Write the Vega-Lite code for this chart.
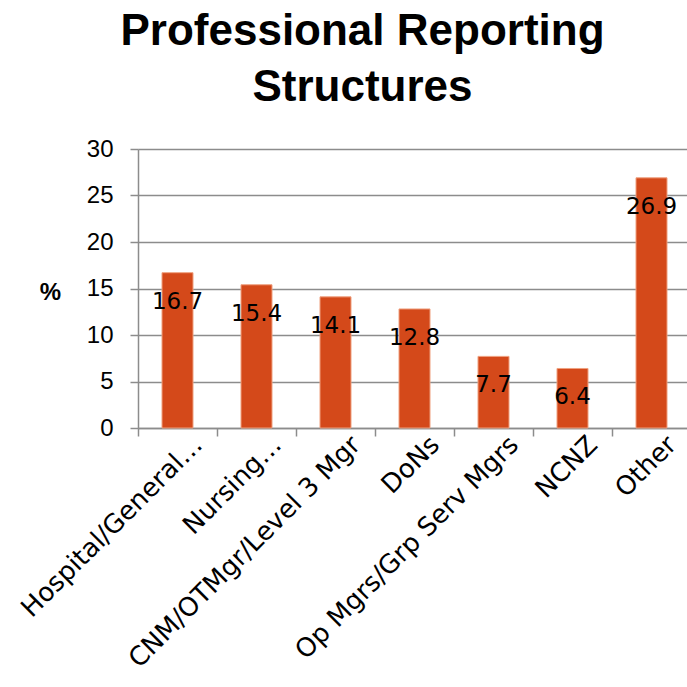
{
  "$schema": "https://vega.github.io/schema/vega-lite/v6.json",
  "width": 553,
  "height": 279,
  "autosize": {"type": "none"},
  "padding": {"left": 138, "top": 149, "right": 0, "bottom": 259},
  "background": "white",
  "title": {
    "text": ["Professional Reporting", "Structures"],
    "font": "Liberation Sans",
    "fontSize": 44,
    "fontWeight": "bold",
    "color": "#000000",
    "anchor": "middle",
    "dx": -52,
    "offset": -8,
    "baseline": "alphabetic",
    "lineHeight": 56
  },
  "data": {
    "values": [
      {"cat": "Hospital/General…", "pct": 16.7},
      {"cat": "Nursing…", "pct": 15.4},
      {"cat": "CNM/OTMgr/Level 3 Mgr", "pct": 14.1},
      {"cat": "DoNs", "pct": 12.8},
      {"cat": "Op Mgrs/Grp Serv Mgrs", "pct": 7.7},
      {"cat": "NCNZ", "pct": 6.4},
      {"cat": "Other", "pct": 26.9}
    ]
  },
  "encoding": {
    "x": {
      "field": "cat",
      "type": "nominal",
      "sort": null,
      "scale": {"paddingInner": 0, "paddingOuter": 0},
      "axis": {
        "title": null,
        "labelAngle": -45,
        "labelFont": "DejaVu Sans",
        "labelFontSize": 26,
        "labelColor": "#000000",
        "labelPadding": -5,
        "labelOffset": 11,
        "labelLimit": 400,
        "tickBand": "extent",
        "tickSize": 8,
        "tickColor": "#8c8c8c",
        "tickWidth": 1.5,
        "domainColor": "#8c8c8c",
        "domainWidth": 1.5,
        "grid": false
      }
    },
    "y": {
      "field": "pct",
      "type": "quantitative",
      "scale": {"domain": [0, 30]},
      "axis": {
        "values": [0, 5, 10, 15, 20, 25, 30],
        "title": "%",
        "titleAngle": 0,
        "titleX": -88,
        "titleY": 143,
        "titleAlign": "center",
        "titleBaseline": "middle",
        "titleFont": "Liberation Sans",
        "titleFontSize": 24,
        "titleFontWeight": "bold",
        "titleColor": "#000000",
        "labelFont": "Liberation Sans",
        "labelFontSize": 24,
        "labelColor": "#000000",
        "labelPadding": 17,
        "tickSize": 8,
        "tickColor": "#8c8c8c",
        "tickWidth": 1.5,
        "domainColor": "#8c8c8c",
        "domainWidth": 1.5,
        "grid": true,
        "gridColor": "#8c8c8c",
        "gridWidth": 1.5
      }
    }
  },
  "layer": [
    {
      "mark": {"type": "bar", "size": 31, "color": "#D4491A", "stroke": "#EFA07F", "strokeWidth": 1}
    },
    {
      "mark": {"type": "text", "font": "DejaVu Sans", "fontSize": 23, "color": "#000000", "baseline": "middle", "dy": 29},
      "encoding": {"text": {"field": "pct", "type": "quantitative", "format": ".1f"}}
    }
  ],
  "config": {"view": {"stroke": null}}
}
